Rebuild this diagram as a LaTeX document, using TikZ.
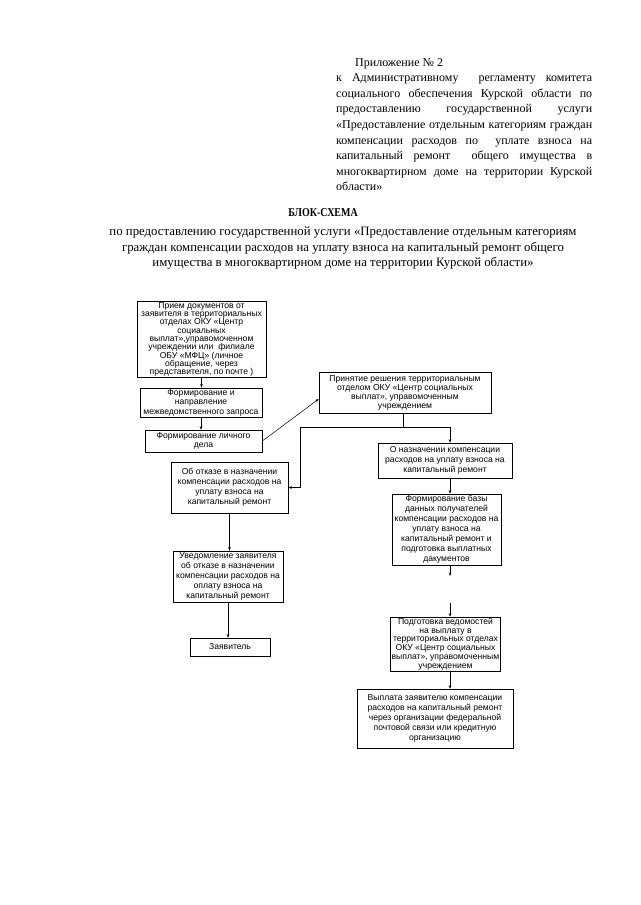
\documentclass[tikz,border=0pt]{standalone}
\usepackage{fontspec}
\setmainfont{Liberation Serif}
\newfontfamily\boxfont{Liberation Sans}
\usetikzlibrary{arrows.meta, positioning}

\begin{document}
\begin{tikzpicture}[x=1pt, y=-1pt,
  every node/.style={inner sep=0pt},
  b/.style={draw, line width=0.6pt, align=center, inner sep=1pt,
    font=\boxfont\fontsize{8.6}{10}\selectfont},
  sz/.style 2 args={minimum width=#1pt, minimum height=#2pt},
  a/.style={-{Stealth[length=3.5pt, width=2.6pt]}, line width=0.5pt},
  l/.style={line width=0.5pt}]
\useasboundingbox (0,0) rectangle (640,905);

% header
\node[anchor=north west, text width=256pt, align=justify,
  font=\fontsize{12}{15.6}\selectfont] (pril) at (336,58)
  {\tolerance=10000\hyphenpenalty=10000
   \hspace*{19pt}Приложение №~2\\
   к Административному \ регламенту комитета\linebreak
   социального обеспечения Курской области по\linebreak
   предоставлению государственной услуги\linebreak
   «Предоставление отдельным категориям граждан\linebreak
   компенсации расходов по \ уплате взноса на\linebreak
   капитальный ремонт \ общего имущества в\linebreak
   многоквартирном доме на территории Курской\linebreak
   области»};
\node[font=\bfseries\fontsize{12}{16}\selectfont] (title) at (323,213)
  {\scalebox{0.83}[1]{БЛОК-СХЕМА}};
\node[anchor=north, align=center, font=\fontsize{12.8}{15.5}\selectfont] (subt) at (343,227)
  {по предоставлению государственной услуги «Предоставление отдельным категориям\\
   граждан компенсации расходов на уплату  взноса  на капитальный ремонт общего\\
   имущества в многоквартирном доме на территории Курской области»};

% left column
\node[b, sz={129}{75}, font=\boxfont\fontsize{8.6}{8.3}\selectfont] (priem) at (201.5,339.5)
  {Прием документов от\\ заявителя в территориальных\\ отделах ОКУ «Центр\\ социальных\\
   выплат»,управомоченном\\ учреждении или \ филиале\\ ОБУ «МФЦ» (личное\\
   обращение, через\\ представителя, по почте )};
\node[b, sz={122}{29}, font=\boxfont\fontsize{8.6}{9.5}\selectfont] (mezh) at (201,402.5)
  {Формирование и\\ направление\\ межведомственного запроса};
\node[b, sz={117}{22}, font=\boxfont\fontsize{8.6}{9.5}\selectfont] (delo) at (203.5,441)
  {Формирование личного\\ дела};
\node[b, sz={172}{41}, font=\boxfont\fontsize{8.6}{9}\selectfont] (reshenie) at (405,392.5)
  {Принятие решения территориальным\\ отделом ОКУ «Центр социальных\\
   выплат», управомоченным\\ учреждением};
\node[b, sz={117}{51}] (otkaz) at (229.5,487.5)
  {Об отказе в назначении\\ компенсации расходов на\\ уплату взноса на\\ капитальный ремонт};
\node[b, sz={110}{51}] (uved) at (228,576.5)
  {Уведомление заявителя\\ об отказе в назначении\\ компенсации расходов на\\
   оплату взноса на\\ капитальный ремонт};
\node[b, sz={80}{18}] (zayav) at (230,647) {Заявитель};

% right column
\node[b, sz={134}{35}] (naznach) at (445,460.5)
  {О назначении компенсации\\ расходов на уплату взноса на\\ капитальный ремонт};
\node[b, sz={109}{71}] (baza) at (446.5,529.5)
  {Формирование базы\\ данных получателей\\ компенсации расходов на\\ уплату взноса на\\
   капитальный ремонт и\\ подготовка выплатных\\ дакументов};
\node[b, sz={105}{53}, font=\boxfont\fontsize{8.6}{8.8}\selectfont] (vedom) at (445.5,644)
  {Подготовка ведомостей\\ на выплату в\\ территориальных отделах\\
   ОКУ «Центр социальных\\ выплат», управомоченным\\ учреждением};
\node[b, sz={156}{59}] (vyplata) at (435,718.5)
  {Выплата заявителю компенсации\\ расходов на капитальный ремонт\\
   через организации федеральной\\ почтовой связи или кредитную\\ организацию};

\coordinate (sp) at (403,427);
\coordinate (lk) at (300,427);
\coordinate (gap1) at (450,576);
\coordinate (gap2) at (450,603);

\draw[a] (priem.south) -- (priem.south |- mezh.north);
\draw[a] (mezh.south) -- (mezh.south |- delo.north);
\draw[a] (delo.east) -- ([yshift=-6.5pt]reshenie.west);
\draw[l] (reshenie.south -| sp) -- (sp);
\draw[a] (sp) -- (lk) |- (otkaz.east);
\draw[a] (sp) -| ([xshift=5pt]naznach.north);
\draw[a] ([xshift=5pt]naznach.south) -- ([xshift=5pt]naznach.south |- baza.north);
\draw[a] (baza.south -| gap1) -- (gap1);
\draw[a] (gap2) -- (gap2 |- vedom.north);
\draw[a] (vedom.south -| gap1) -- (vyplata.north -| gap1);
\draw[a] (otkaz.south) -- (otkaz.south |- uved.north);
\draw[a] (uved.south) -- (uved.south |- zayav.north);
\end{tikzpicture}
\end{document}
